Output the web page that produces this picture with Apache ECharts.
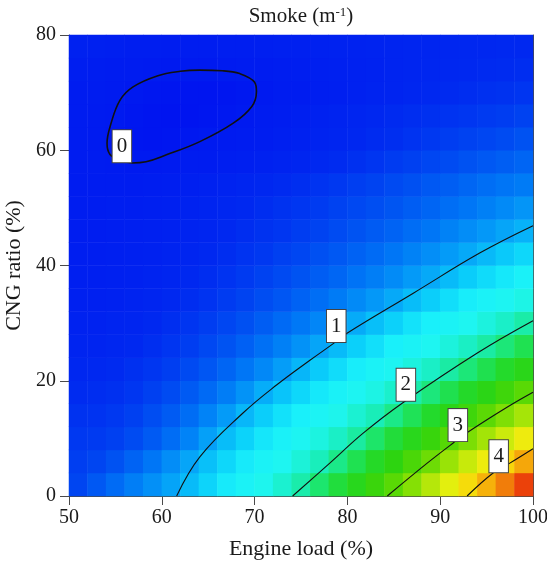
<!DOCTYPE html>
<html><head><meta charset="utf-8">
<script src="https://cdn.jsdelivr.net/npm/echarts@6/dist/echarts.min.js"></script>
<style>html,body{margin:0;padding:0;background:#fff}#c{width:547px;height:562px}</style>
</head><body><div id="c"></div>
<script>
// axis ticks
const xTicks = [50, 60, 70, 80, 90, 100];
const yTicks = [0, 20, 40, 60, 80];
// heatmap cell centres (engine load %, CNG ratio %)
const xCells = [51,53,55,57,59,61,63,65,67,69,71,73,75,77,79,81,83,85,87,89,91,93,95,97,99];
const yCells = [2,6,10,14,18,22,26,30,34,38,42,46,50,54,58,62,66,70,74,78];
const smokeY02 = [0.33,0.45,0.57,0.69,0.80,0.92,1.05,1.20,1.36,1.51,1.66,1.81,1.96,2.15,2.34,2.53,2.73,2.92,3.14,3.38,3.61,3.85,4.09,4.35,4.65];
const smokeY06 = [0.29,0.33,0.41,0.52,0.64,0.78,0.93,1.08,1.22,1.36,1.50,1.63,1.77,1.91,2.07,2.26,2.45,2.64,2.83,3.02,3.24,3.47,3.69,3.91,4.14];
const smokeY10 = [0.25,0.26,0.30,0.37,0.46,0.58,0.72,0.90,1.06,1.19,1.33,1.46,1.59,1.73,1.86,1.99,2.17,2.35,2.54,2.72,2.90,3.09,3.29,3.49,3.70];
const smokeY14 = [0.21,0.22,0.25,0.30,0.38,0.47,0.58,0.72,0.87,1.03,1.16,1.29,1.41,1.54,1.67,1.80,1.92,2.07,2.24,2.41,2.59,2.76,2.93,3.11,3.30];
const smokeY18 = [0.17,0.18,0.20,0.24,0.30,0.37,0.46,0.56,0.68,0.82,0.97,1.10,1.22,1.34,1.47,1.59,1.71,1.83,1.96,2.11,2.27,2.43,2.59,2.76,2.92];
const smokeY22 = [0.14,0.15,0.16,0.20,0.24,0.29,0.36,0.44,0.53,0.64,0.75,0.88,1.02,1.14,1.26,1.38,1.50,1.62,1.74,1.86,1.98,2.12,2.27,2.42,2.57];
const smokeY26 = [0.11,0.11,0.13,0.15,0.19,0.23,0.28,0.35,0.42,0.50,0.60,0.70,0.81,0.93,1.05,1.17,1.28,1.40,1.52,1.63,1.75,1.87,1.98,2.12,2.26];
const smokeY30 = [0.09,0.09,0.11,0.12,0.15,0.19,0.23,0.28,0.34,0.40,0.48,0.56,0.65,0.74,0.85,0.96,1.07,1.18,1.30,1.41,1.52,1.63,1.74,1.85,1.97];
const smokeY34 = [0.07,0.07,0.08,0.10,0.12,0.15,0.18,0.22,0.27,0.32,0.38,0.44,0.51,0.59,0.67,0.76,0.85,0.95,1.06,1.16,1.27,1.38,1.48,1.59,1.70];
const smokeY38 = [0.06,0.06,0.07,0.08,0.10,0.12,0.15,0.18,0.22,0.26,0.31,0.36,0.42,0.48,0.54,0.62,0.69,0.77,0.86,0.95,1.05,1.15,1.25,1.34,1.44];
const smokeY42 = [0.05,0.05,0.06,0.07,0.08,0.10,0.12,0.15,0.18,0.22,0.25,0.30,0.34,0.40,0.45,0.51,0.57,0.64,0.71,0.79,0.87,0.95,1.04,1.13,1.22];
const smokeY46 = [0.04,0.04,0.05,0.06,0.07,0.08,0.10,0.12,0.15,0.18,0.21,0.24,0.28,0.32,0.37,0.42,0.47,0.52,0.58,0.64,0.71,0.78,0.85,0.93,1.00];
const smokeY50 = [0.04,0.04,0.05,0.05,0.06,0.07,0.09,0.11,0.13,0.15,0.18,0.21,0.24,0.27,0.31,0.35,0.39,0.43,0.48,0.53,0.59,0.64,0.70,0.76,0.83];
const smokeY54 = [0.03,0.03,0.03,0.03,0.04,0.05,0.06,0.08,0.10,0.12,0.14,0.16,0.19,0.22,0.25,0.29,0.32,0.36,0.40,0.45,0.49,0.54,0.59,0.63,0.67];
const smokeY58 = [0.03,0.02,0.01,0.00,0.00,0.01,0.02,0.03,0.05,0.06,0.08,0.10,0.12,0.15,0.17,0.20,0.23,0.27,0.30,0.34,0.37,0.41,0.45,0.49,0.53];
const smokeY62 = [0.02,0.01,-0.02,-0.04,-0.05,-0.04,-0.02,0.00,0.01,0.03,0.04,0.06,0.08,0.10,0.12,0.14,0.17,0.19,0.22,0.25,0.28,0.31,0.34,0.37,0.41];
const smokeY66 = [0.02,0.01,0.00,-0.03,-0.05,-0.06,-0.06,-0.04,-0.02,0.00,0.02,0.04,0.06,0.08,0.10,0.12,0.14,0.16,0.18,0.20,0.22,0.24,0.26,0.28,0.31];
const smokeY70 = [0.03,0.02,0.01,-0.01,-0.03,-0.04,-0.05,-0.05,-0.04,-0.02,0.00,0.02,0.03,0.05,0.06,0.08,0.10,0.11,0.13,0.15,0.16,0.18,0.20,0.21,0.23];
const smokeY74 = [0.05,0.04,0.03,0.02,0.01,0.00,0.00,0.00,0.01,0.02,0.03,0.04,0.05,0.06,0.07,0.08,0.09,0.11,0.12,0.13,0.14,0.15,0.16,0.17,0.18];
const smokeY78 = [0.08,0.07,0.06,0.05,0.05,0.04,0.04,0.04,0.05,0.05,0.06,0.07,0.07,0.08,0.09,0.09,0.10,0.11,0.12,0.12,0.13,0.14,0.14,0.15,0.15];
// contour lines [engine load, CNG ratio]
const contour0 = [[56.8,57.8],[55.5,58.2],[54.4,59.3],[54.1,61.2],[54.5,64.5],[55.5,68.7],[56.9,71.0],[59.5,72.9],[62.0,73.7],[64.1,73.9],[66.5,73.8],[68.4,73.3],[70.0,71.8],[70.2,70.2],[69.7,67.6],[67.7,64.7],[64.1,61.5],[60.5,59.2],[58.3,58.0],[56.8,57.8]];
const contour1 = [[61.6,0],[64.1,6.8],[68.75,14.4],[72.4,19.3],[76.0,23.6],[78.7,26.7],[80.0,28.3],[87.1,35.2],[94.3,42.2],[100,46.9]];
const contour2 = [[74.1,0],[78.1,5.7],[81.7,10.9],[85.9,16.1],[94.0,24.8],[100,30.4]];
const contour3 = [[84.3,0],[88.6,5.7],[91.4,9.2],[93.0,11.1],[97.2,15.4],[100,18.0]];
const contour4 = [[92.9,0],[95.7,4.0],[97.5,5.7],[100,8.2]];
const labelX = [55.7, 78.8, 86.3, 91.9, 96.3];
const labelY = [60.7, 29.5, 19.3, 12.3, 6.9];
const labelText = ['0', '1', '2', '3', '4'];

const FONT = "'Liberation Serif', 'DejaVu Serif', serif";
const TXT = '#1a1a1a';
const AX = '#4a4a4a';
const smokeRows = [smokeY02,smokeY06,smokeY10,smokeY14,smokeY18,smokeY22,smokeY26,smokeY30,smokeY34,smokeY38,smokeY42,smokeY46,smokeY50,smokeY54,smokeY58,smokeY62,smokeY66,smokeY70,smokeY74,smokeY78];
const heatData = [];
smokeRows.forEach((row, j) => row.forEach((v, i) => heatData.push([i, j, v])));

const contourSeries = [contour0, contour1, contour2, contour3, contour4].map((pts, k) => ({
  type: 'line', xAxisIndex: 1, yAxisIndex: 1, data: pts, smooth: 0.4, symbol: 'none',
  silent: true, z: 3, clip: true,
  lineStyle: { color: '#111', width: k === 0 ? 1.6 : 1.1 }
}));

const chart = echarts.init(document.getElementById('c'), null, { renderer: 'canvas' });
chart.setOption({
  animation: false,
  backgroundColor: '#fff',
  grid: { left: 69, top: 35, width: 464, height: 461, containLabel: false, outerBoundsMode: 'none' },
  visualMap: {
    type: 'continuous', show: false, seriesIndex: 0, min: -0.1, max: 4.9,
    inRange: { color: [
      'rgb(0,16,240)','rgb(0,40,240)','rgb(0,80,242)','rgb(0,120,246)','rgb(5,160,248)',
      'rgb(10,205,250)','rgb(25,240,250)','rgb(30,245,240)','rgb(25,238,190)','rgb(28,230,110)',
      'rgb(35,218,45)','rgb(45,212,15)','rgb(85,216,5)','rgb(135,224,5)','rgb(185,232,10)',
      'rgb(235,240,15)','rgb(248,215,10)','rgb(245,165,10)','rgb(240,115,10)','rgb(235,65,10)','rgb(230,20,10)'] }
  },
  xAxis: [
    { type: 'category', data: xCells.map(String), show: false, position: 'bottom' },
    { type: 'value', position: 'bottom', min: xTicks[0], max: xTicks[xTicks.length - 1], interval: xTicks[1] - xTicks[0],
      axisLine: { show: true, onZero: false, lineStyle: { color: AX, width: 1 } },
      axisTick: { show: true, length: 9, lineStyle: { color: AX } },
      axisLabel: { margin: 12, fontFamily: FONT, fontSize: 20, color: TXT },
      splitLine: { show: false },
      name: 'Engine load (%)', nameLocation: 'middle', nameGap: 42,
      nameTextStyle: { fontFamily: FONT, fontSize: 22, color: TXT } },
    { type: 'value', position: 'top', min: xTicks[0], max: xTicks[xTicks.length - 1], interval: xTicks[1] - xTicks[0],
      axisLine: { show: true, onZero: false, lineStyle: { color: AX, width: 1 } },
      axisTick: { show: false }, axisLabel: { show: false }, splitLine: { show: false },
      name: '{a|Smoke (m}{s|-1}{a|)}', nameLocation: 'middle', nameGap: 8,
      nameTextStyle: { fontFamily: FONT, fontSize: 21, color: TXT,
        rich: { a: { fontFamily: FONT, fontSize: 21, color: TXT },
                s: { fontFamily: FONT, fontSize: 13, color: TXT, verticalAlign: 'top' } } } }
  ],
  yAxis: [
    { type: 'category', data: yCells.map(String), show: false, position: 'left' },
    { type: 'value', position: 'left', min: yTicks[0], max: yTicks[yTicks.length - 1], interval: yTicks[1] - yTicks[0],
      axisLine: { show: true, onZero: false, lineStyle: { color: AX, width: 1 } },
      axisTick: { show: true, length: 9, lineStyle: { color: AX } },
      axisLabel: { margin: 13, fontFamily: FONT, fontSize: 20, color: TXT },
      splitLine: { show: false },
      name: 'CNG ratio (%)', nameLocation: 'middle', nameGap: 41,
      nameTextStyle: { fontFamily: FONT, fontSize: 22, color: TXT } },
    { type: 'value', position: 'right', min: yTicks[0], max: yTicks[yTicks.length - 1], interval: yTicks[1] - yTicks[0],
      axisLine: { show: true, onZero: false, lineStyle: { color: AX, width: 1 } },
      axisTick: { show: false }, axisLabel: { show: false }, splitLine: { show: false } }
  ],
  series: [
    { type: 'heatmap', xAxisIndex: 0, yAxisIndex: 0, data: heatData, silent: true,
      itemStyle: { borderWidth: 0 }, emphasis: { disabled: true }, progressive: 0 },
    ...contourSeries,
    { type: 'scatter', xAxisIndex: 1, yAxisIndex: 1, symbolSize: 1, silent: true, z: 5,
      itemStyle: { color: '#fff', opacity: 1 },
      data: labelText.map((t, i) => ({ name: t, value: [labelX[i], labelY[i]] })),
      label: { show: true, position: 'inside', formatter: '{b}', fontFamily: FONT, fontSize: 21, color: TXT, opacity: 1,
        backgroundColor: '#ffffff', borderColor: '#444', borderWidth: 1, padding: [5, 4, 4, 4], lineHeight: 23 } }
  ]
});
</script></body></html>
